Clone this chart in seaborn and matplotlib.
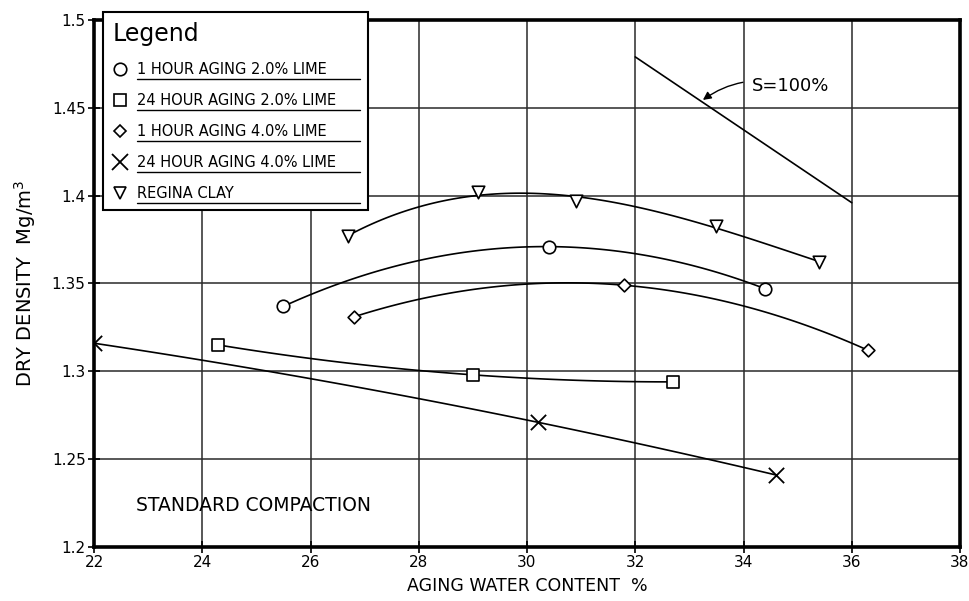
import matplotlib
matplotlib.use("Agg")
import matplotlib.pyplot as plt
import seaborn as sns
import numpy as np
import pandas as pd
from matplotlib.lines import Line2D

# ---- data ----
x_1h_2 = [25.5, 30.4, 34.4]
y_1h_2 = [1.337, 1.371, 1.347]
x_24h_2 = [24.3, 29.0, 32.7]
y_24h_2 = [1.315, 1.298, 1.294]
x_1h_4 = [26.8, 31.8, 36.3]
y_1h_4 = [1.331, 1.349, 1.312]
x_24h_4 = [22.0, 30.2, 34.6]
y_24h_4 = [1.316, 1.271, 1.241]
x_regina = [26.7, 29.1, 30.9, 33.5, 35.4]
y_regina = [1.377, 1.402, 1.397, 1.383, 1.362]
sat_x = [32.0, 36.0]
sat_y = [1.479, 1.396]

labels = ["1 HOUR AGING 2.0% LIME", "24 HOUR AGING 2.0% LIME",
          "1 HOUR AGING 4.0% LIME", "24 HOUR AGING 4.0% LIME", "REGINA CLAY"]
x_ticks = [22, 24, 26, 28, 30, 32, 34, 36, 38]
y_ticks = [1.2, 1.25, 1.3, 1.35, 1.4, 1.45, 1.5]
y_ticklabels = ["1.2", "1.25", "1.3", "1.35", "1.4", "1.45", "1.5"]

sns.set_theme(style="white")
plt.rcParams['font.family'] = ['DejaVu Sans']
plt.rcParams['text.color'] = 'black'
plt.rcParams['axes.labelcolor'] = 'black'
plt.rcParams['xtick.color'] = 'black'
plt.rcParams['ytick.color'] = 'black'

fig = plt.figure(figsize=(9.7, 6.01), dpi=100)
ax = fig.add_axes([94/970, 54/601, 866/970, 527/601])

series = [
    (x_1h_2, y_1h_2, 'o', 9, 2),
    (x_24h_2, y_24h_2, 's', 9, 2),
    (x_1h_4, y_1h_4, 'D', 6.5, 2),
    (x_24h_4, y_24h_4, 'x', 11, 2),
    (x_regina, y_regina, 'v', 9, 3),
]

for xs, ys, m, ms, order in series:
    df = pd.DataFrame({"x": xs, "y": ys})
    sns.regplot(data=df, x="x", y="y", order=order, ci=None, scatter=False,
                truncate=True, ax=ax, line_kws=dict(color='black', lw=1.2, zorder=3))
    if m == 'x':
        sns.scatterplot(data=df, x="x", y="y", marker='x', s=ms**2, color='black',
                        linewidth=1.3, ax=ax, zorder=4)
    else:
        sns.scatterplot(data=df, x="x", y="y", marker=m, s=ms**2, facecolor='white',
                        edgecolor='black', linewidth=1.2, ax=ax, zorder=4)

# saturation line
sns.lineplot(x=sat_x, y=sat_y, color='black', lw=1.2, ax=ax, zorder=3)

ax.annotate("S=100%", xy=(33.25, 1.4545), xytext=(34.15, 1.4625),
            fontsize=13, va='center', ha='left', color='black',
            arrowprops=dict(arrowstyle='-|>', color='black', lw=1.0,
                            mutation_scale=12,
                            connectionstyle='arc3,rad=0.25',
                            shrinkA=4, shrinkB=0))

ax.text(22.78, 1.2235, "STANDARD COMPACTION", fontsize=13.5, va='center', ha='left',
        color='black')

ax.set_xlim(22, 38)
ax.set_ylim(1.2, 1.5)
ax.set_xticks(x_ticks)
ax.set_xticklabels([str(t) for t in x_ticks])
ax.set_yticks(y_ticks)
ax.set_yticklabels(y_ticklabels)
ax.grid(True, color='#2a2a2a', lw=1.1)
ax.set_axisbelow(True)
for sp in ax.spines.values():
    sp.set_visible(True)
    sp.set_color('black')
    sp.set_linewidth(2.6)
ax.tick_params(axis='both', direction='inout', length=8, width=1.2,
               colors='black', labelsize=11, pad=2)
ax.tick_params(axis='x', bottom=True)
ax.tick_params(axis='y', left=True)

ax.set_xlabel("AGING WATER CONTENT  %", fontsize=12.5, labelpad=5, color='black')
ax.set_ylabel("DRY DENSITY  Mg/m$^3$", fontsize=14, labelpad=10, color='black')

# legend
handles = []
for xs, ys, m, ms, order in series:
    if m == 'x':
        handles.append(Line2D([], [], ls='none', marker='x', ms=11, mec='black', mew=1.3))
    else:
        handles.append(Line2D([], [], ls='none', marker=m, ms=ms, mfc='white',
                              mec='black', mew=1.2))
leg = ax.legend(handles, labels, title="Legend", loc='upper left',
                bbox_to_anchor=(9/866, 0.643, 265/866, 0.372), mode='expand',
                borderaxespad=0, frameon=True, fancybox=False, framealpha=1,
                edgecolor='black', fontsize=10.5, title_fontsize=17,
                alignment='left', labelspacing=1.1, handletextpad=0.7,
                handlelength=1.0, borderpad=0.65)
leg.get_frame().set_linewidth(1.5)
leg.set_zorder(10)
for t in leg.get_texts():
    t.set_color('black')
leg.get_title().set_color('black')

fig.canvas.draw()
renderer = fig.canvas.get_renderer()
fbox = leg.get_frame().get_window_extent(renderer)
W, H = fig.bbox.width, fig.bbox.height
for t in leg.get_texts():
    bb = t.get_window_extent(renderer)
    yline = bb.y0 - 2
    ln = Line2D([bb.x0 / W, (fbox.x1 - 8) / W], [yline / H, yline / H],
                transform=fig.transFigure, color='black', lw=1.0, zorder=11)
    fig.add_artist(ln)

fig.savefig("out.png", dpi=100)
